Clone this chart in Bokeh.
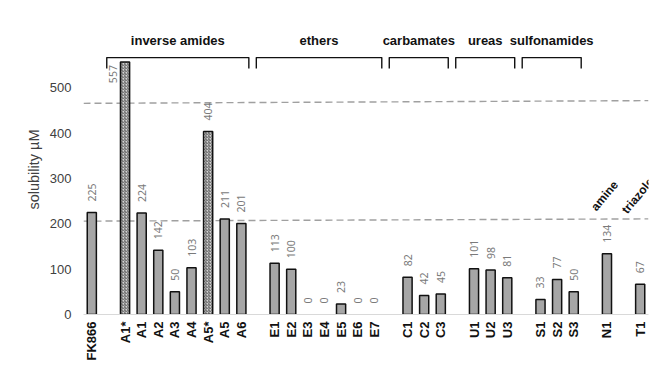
import numpy as np
from bokeh.plotting import figure
from bokeh.models import Range1d, FixedTicker, ColumnDataSource, Label
from bokeh.core.properties import value
from bokeh.embed import file_html
from bokeh.resources import INLINE

# ---------------- data ----------------
fk_labels = ["FK866"]
fk_values = [225]
amide_labels = ["A1*", "A1", "A2", "A3", "A4", "A5*", "A5", "A6"]
amide_values = [557, 224, 142, 50, 103, 404, 211, 201]
ether_labels = ["E1", "E2", "E3", "E4", "E5", "E6", "E7"]
ether_values = [113, 100, 0, 0, 23, 0, 0]
carbamate_labels = ["C1", "C2", "C3"]
carbamate_values = [82, 42, 45]
urea_labels = ["U1", "U2", "U3"]
urea_values = [101, 98, 81]
sulfonamide_labels = ["S1", "S2", "S3"]
sulfonamide_values = [33, 77, 50]
amine_labels = ["N1"]
amine_values = [134]
triazole_labels = ["T1"]
triazole_values = [67]
hatched_labels = ["A1*", "A5*"]
y_ticks = [0, 100, 200, 300, 400, 500]
upper_ref_line = [466, 472]
lower_ref_line = [206, 211]

groups = [
    (None, fk_labels, fk_values, "none"),
    ("inverse amides", amide_labels, amide_values, "bracket"),
    ("ethers", ether_labels, ether_values, "bracket"),
    ("carbamates", carbamate_labels, carbamate_values, "bracket"),
    ("ureas", urea_labels, urea_values, "bracket"),
    ("sulfonamides", sulfonamide_labels, sulfonamide_values, "bracket"),
    ("amine", amine_labels, amine_values, "tilted"),
    ("triazole", triazole_labels, triazole_values, "tilted"),
]

# ---------------- layout of slots ----------------
xs, names, vals = [], [], []
spans = []
slot = 0
for gi, (gname, labs, vs, kind) in enumerate(groups):
    if gi > 0:
        slot += 1  # empty gap slot between groups
    start = slot
    for lab, v in zip(labs, vs):
        xs.append(slot)
        names.append(lab)
        vals.append(v)
        slot += 1
    spans.append((gname, start, slot - 1, kind))
n_slots = slot

FONT = value("Liberation Sans")
VFONT = value("Noto Sans")

p = figure(width=657, height=368, output_backend="svg", toolbar_location=None,
           x_range=Range1d(-0.5, n_slots - 0.5), y_range=Range1d(0, 640),
           min_border_left=83, min_border_right=9, min_border_top=24, min_border_bottom=54)
p.outline_line_color = None
p.xgrid.visible = False
p.ygrid.visible = False
p.background_fill_color = "white"
p.border_fill_color = "white"

# dashed reference lines
p.line(x=[-0.5, n_slots - 0.5], y=upper_ref_line, line_color="#a0a0a0", line_width=1.4, line_dash="7 4")
p.line(x=[-0.5, n_slots - 0.5], y=lower_ref_line, line_color="#a0a0a0", line_width=1.4, line_dash="7 4")

# bars
plain = dict(x=[], top=[])
hatch = dict(x=[], top=[])
for x, n, v in zip(xs, names, vals):
    if v <= 0:
        continue
    d = hatch if n in hatched_labels else plain
    d["x"].append(x)
    d["top"].append(v)
p.vbar(x="x", top="top", width=0.55, source=ColumnDataSource(plain),
       fill_color="#a6a6a6", line_color="#111111", line_width=1.5)
p.vbar(x="x", top="top", width=0.55, source=ColumnDataSource(hatch),
       fill_color="#d4d4d4", line_color="#111111", line_width=1.5,
       hatch_pattern="right_diagonal_line", hatch_color="#505050", hatch_scale=3, hatch_weight=0.9)

# value labels
normal_lab = dict(x=[], y=[], t=[])
tall_lab = dict(x=[], y=[], t=[])
for x, v in zip(xs, vals):
    d = tall_lab if v > 520 else normal_lab
    d["x"].append(x)
    d["y"].append(v)
    d["t"].append(str(v))
p.text(x="x", y="y", text="t", source=ColumnDataSource(normal_lab), angle=np.pi / 2,
       text_align="left", text_baseline="middle", y_offset=-11,
       text_font=VFONT, text_font_size="10.5px", text_color="#7a7a7a")
p.text(x="x", y="y", text="t", source=ColumnDataSource(tall_lab), angle=np.pi / 2,
       text_align="right", text_baseline="middle", x_offset=-12, y_offset=3,
       text_font=VFONT, text_font_size="10.5px", text_color="#7a7a7a")

# group brackets and labels
b_xs, b_ys, g_x, g_t = [], [], [], []
top_y, bot_y = 567, 543
for gname, s, e, kind in spans:
    if kind == "bracket":
        l, r = s - 1.1, e + 0.45
        b_xs.append([l, l, r, r])
        b_ys.append([bot_y, top_y, top_y, bot_y])
        g_x.append((l + r) / 2)
        g_t.append(gname)
    elif kind == "tilted":
        p.add_layout(Label(x=s - 0.15, y=262, text=gname, angle=np.deg2rad(50),
                           text_align="center", text_baseline="middle",
                           text_font="Liberation Sans", text_font_style="bold",
                           text_font_size="12px", text_color="#111111"))
p.multi_line(xs=b_xs, ys=b_ys, line_color="#111111", line_width=1.4, line_join="round")
p.text(x=g_x, y=[605] * len(g_x), text=g_t, text_align="center", text_baseline="middle",
       text_font=FONT, text_font_style="bold", text_font_size="13px", text_color="#111111")

# axes
xa = p.xaxis[0]
xa.ticker = FixedTicker(ticks=xs)
xa.major_label_overrides = {x: n for x, n in zip(xs, names)}
xa.major_label_orientation = np.pi / 2
xa.major_label_text_font = "Liberation Sans"
xa.major_label_text_font_style = "bold"
xa.major_label_text_font_size = "13px"
xa.major_label_text_color = "#111111"
xa.major_tick_line_color = None
xa.minor_tick_line_color = None
xa.major_tick_out = 0
xa.major_tick_in = 0
xa.major_label_standoff = 7
xa.axis_line_color = "#d9d9d9"
xa.axis_line_width = 1.2

ya = p.yaxis[0]
ya.ticker = FixedTicker(ticks=y_ticks)
ya.axis_label = "solubility µM"
ya.axis_label_text_font = "Liberation Sans"
ya.axis_label_text_font_style = "normal"
ya.axis_label_text_font_size = "14.5px"
ya.axis_label_text_color = "#404040"
ya.axis_label_standoff = 5
ya.major_label_text_font = "Liberation Sans"
ya.major_label_text_font_size = "13px"
ya.major_label_text_color = "#404040"
ya.major_label_standoff = 12
ya.axis_line_color = None
ya.major_tick_line_color = None
ya.minor_tick_line_color = None
ya.major_tick_out = 0
ya.major_tick_in = 0

open("out.html", "w").write(file_html(p, INLINE))
